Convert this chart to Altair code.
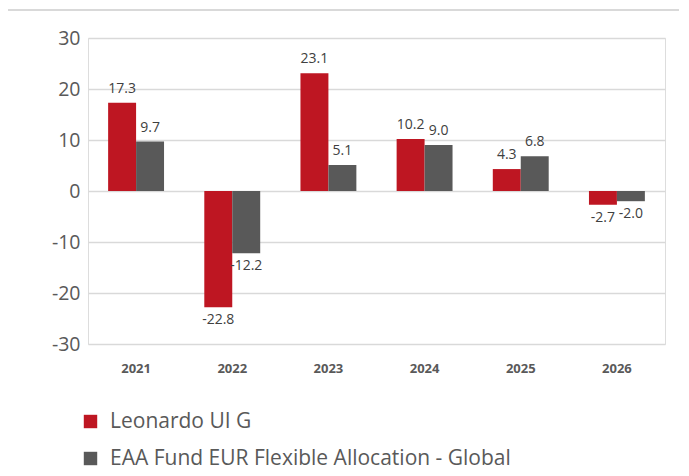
import altair as alt
import pandas as pd

years = ["2021", "2022", "2023", "2024", "2025", "2026"]
series_names = ["Leonardo UI G", "EAA Fund EUR Flexible Allocation - Global"]
leonardo = [17.3, -22.8, 23.1, 10.2, 4.3, -2.7]
category = [9.7, -12.2, 5.1, 9.0, 6.8, -2.0]
colors = ["#BE1622", "#595959"]

rows = []
for i, y in enumerate(years):
    rows.append({"year": y, "series": series_names[0], "value": leonardo[i], "label": f"{leonardo[i]:.1f}"})
    rows.append({"year": y, "series": series_names[1], "value": category[i], "label": f"{category[i]:.1f}"})
df = pd.DataFrame(rows)

FONT = "Open Sans"

x = alt.X("year:N", sort=years, title=None,
          scale=alt.Scale(paddingInner=0.0, paddingOuter=0.0),
          axis=alt.Axis(labelAngle=0, labelFontWeight="bold", labelFontSize=13,
                        labelColor="#595959", labelPadding=18, domain=False, ticks=False,
                        labelFont=FONT))
xo = alt.XOffset("series:N", sort=series_names,
                 scale=alt.Scale(paddingInner=0.0, paddingOuter=0.72))
y = alt.Y("value:Q", title=None,
          scale=alt.Scale(domain=[-30, 30], nice=False),
          axis=alt.Axis(values=[-30, -20, -10, 0, 10, 20, 30], labelFontSize=19.5,
                        labelExpr="'' + datum.value",
                        labelColor="#595959", labelPadding=8, domain=False, ticks=False,
                        gridColor="#d9d9d9", gridWidth=1.6, labelFont=FONT))

base = alt.Chart(df)

bars = base.mark_bar().encode(
    x=x, xOffset=xo, y=y,
    color=alt.Color("series:N", sort=series_names,
                    scale=alt.Scale(domain=series_names, range=colors),
                    legend=alt.Legend(title=None, orient="none", legendX=-8, legendY=373,
                                      symbolType="square", symbolSize=180, symbolStrokeWidth=0,
                                      labelFontSize=21, labelColor="#595959", labelFont=FONT,
                                      rowPadding=15, symbolOffset=0, labelOffset=9,
                                      labelLimit=600)),
)

pos_text = base.transform_filter("datum.value >= 0").mark_text(
    baseline="bottom", dy=-7, fontSize=14, color="#404040", font=FONT
).encode(x=x, xOffset=xo, y=y, text="label:N")

neg_text = base.transform_filter("datum.value < 0").mark_text(
    baseline="top", dy=6, fontSize=14, color="#404040", font=FONT
).encode(x=x, xOffset=xo, y=y, text="label:N")

border = alt.Chart(pd.DataFrame({"a": [0]})).mark_rect(
    fill=None, stroke="#d9d9d9", strokeWidth=2
).encode(x=alt.value(-81), x2=alt.value(700), y=alt.value(-28), y2=alt.value(600))

chart = alt.layer(border, bars, pos_text, neg_text).properties(
    width=577, height=306,
    autosize=alt.AutoSizeParams(type="none"),
    padding={"left": 80, "top": 30, "right": 14, "bottom": 124},
).configure_view(stroke=None).configure(font=FONT)

chart.save("out.html", embed_options={"renderer": "svg", "actions": False})
